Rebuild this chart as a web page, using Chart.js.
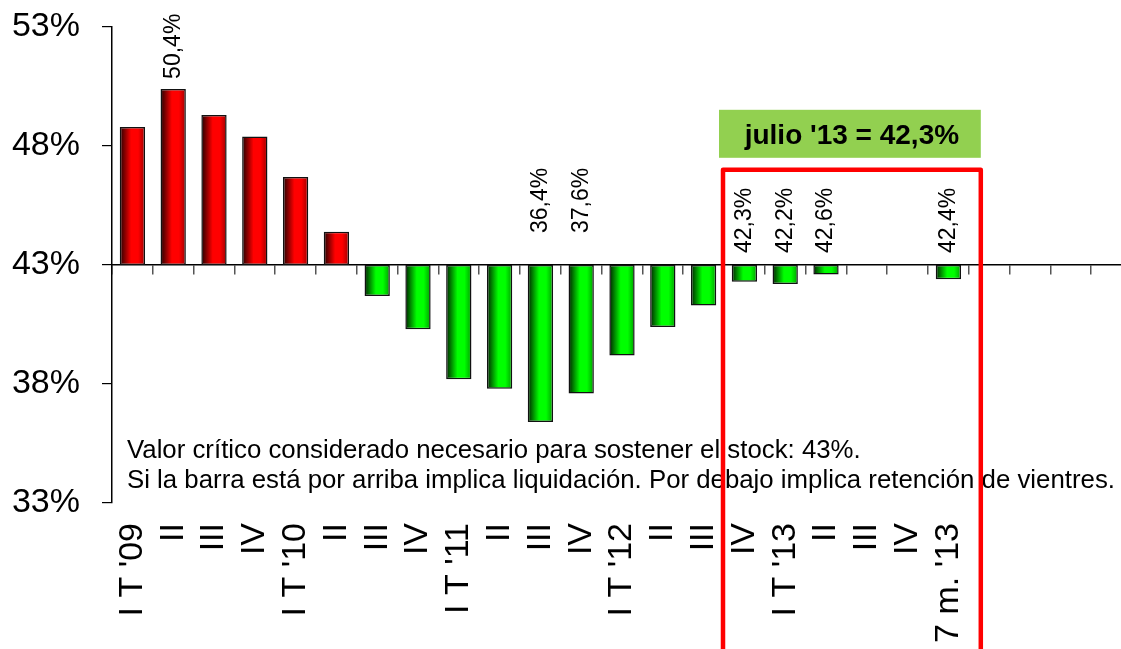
<!DOCTYPE html>
<html lang="es">
<head>
<meta charset="UTF-8">
<title>Relación de faena de hembras</title>
<script src="https://cdn.jsdelivr.net/npm/chart.js"></script>
<style>
  html, body { margin: 0; padding: 0; background: #fff; overflow: hidden; }
  #wrap { width: 1132px; height: 649px; }
</style>
</head>
<body>
<div id="wrap"><canvas id="myChart"></canvas></div>
<script>
// trimestres (las ultimas 4 categorias quedan vacias)
const labels = ["I T '09", "II", "III", "IV", "I T '10", "II", "III", "IV",
                "I T '11", "II", "III", "IV", "I T '12", "II", "III", "IV",
                "I T '13", "II", "III", "IV", "7 m. '13", "", "", "", ""];
const values = [48.8, 50.4, 49.3, 48.4, 46.7, 44.4, 41.7, 40.3,
                38.2, 37.8, 36.4, 37.6, 39.2, 40.4, 41.3, 42.3,
                42.2, 42.6, null, null, 42.4, null, null, null, null];
const labeledBars = [1, 10, 11, 15, 16, 17, 20];
const critico = 43;
const yTicks = [33, 38, 43, 48, 53];
const notaLineas = [
  "Valor crítico considerado necesario para sostener el stock: 43%.",
  "Si la barra está por arriba implica liquidación. Por debajo implica retención de vientres."
];
const recuadroTexto = "julio '13 = 42,3%";
const highlightFrom = 15, highlightTo = 20;

const FONT = "'Liberation Sans', Arial, sans-serif";

function barGradient(ctx) {
  const chart = ctx.chart;
  const v = values[ctx.dataIndex];
  const plano = v != null && v < critico ? '#00ff00' : '#ff0000';
  const xs = chart.scales.x;
  if (!chart.chartArea || !xs || v == null) return plano;
  const cx = xs.getPixelForValue(ctx.dataIndex);
  if (!isFinite(cx)) return plano;
  const w = 26;
  const g = chart.ctx.createLinearGradient(cx - w / 2, 0, cx + w / 2, 0);
  if (v >= critico) {
    g.addColorStop(0, '#1a0000');
    g.addColorStop(0.45, '#ff0000');
    g.addColorStop(0.72, '#ff0000');
    g.addColorStop(1, '#9a0000');
  } else {
    g.addColorStop(0, '#001a00');
    g.addColorStop(0.45, '#00ff00');
    g.addColorStop(0.72, '#00ff00');
    g.addColorStop(1, '#009a00');
  }
  return g;
}

const etiquetas = {
  id: 'etiquetas',
  afterDatasetsDraw(chart) {
    const ctx = chart.ctx;
    const meta = chart.getDatasetMeta(0);
    const yBase = chart.scales.y.getPixelForValue(critico);
    ctx.save();
    ctx.fillStyle = '#000';
    ctx.font = '23px ' + FONT;
    ctx.textAlign = 'left';
    ctx.textBaseline = 'middle';
    labeledBars.forEach(i => {
      const el = meta.data[i];
      const v = values[i];
      let yb;
      if (v >= critico) yb = Math.min(el.y, el.base) - 10;
      else yb = yBase - (v < 40 ? 32 : 12);
      ctx.save();
      ctx.translate(el.x, yb);
      ctx.rotate(-Math.PI / 2);
      ctx.fillText(v.toFixed(1).replace('.', ',') + '%', 0, 0);
      ctx.restore();
    });
    ctx.restore();
  },
  afterDraw(chart) {
    const ctx = chart.ctx;
    const xs = chart.scales.x, ys = chart.scales.y;
    const catW = (xs.right - xs.left) / labels.length;

    // nota
    ctx.save();
    ctx.fillStyle = '#000';
    ctx.font = '25.8px ' + FONT;
    ctx.textAlign = 'left';
    ctx.textBaseline = 'alphabetic';
    ctx.fillText(notaLineas[0], xs.left + 15, ys.getPixelForValue(34.9));
    ctx.fillText(notaLineas[1], xs.left + 15, ys.getPixelForValue(33.65));

    // recuadro rojo
    const left = xs.left + highlightFrom * catW - 1;
    const right = xs.left + (highlightTo + 1) * catW + 12;
    const top = ys.getPixelForValue(47);
    const bottom = chart.height + 20;

    // rotulo verde
    ctx.fillStyle = '#92D050';
    ctx.fillRect(left - 4, top - 60, right - left + 4, 48);
    ctx.fillStyle = '#000';
    ctx.font = 'bold 28px ' + FONT;
    ctx.textAlign = 'center';
    ctx.fillText(recuadroTexto, (left + right) / 2, top - 26);

    ctx.strokeStyle = '#ff0000';
    ctx.lineWidth = 4.5;
    ctx.lineJoin = 'round';
    ctx.beginPath();
    ctx.moveTo(left, bottom);
    ctx.lineTo(left, top);
    ctx.lineTo(right, top);
    ctx.lineTo(right, bottom);
    ctx.stroke();
    ctx.restore();
  }
};

new Chart(document.getElementById('myChart'), {
  type: 'bar',
  data: {
    labels: labels,
    datasets: [{
      data: values.map(v => v == null ? null : [critico, v]),
      backgroundColor: barGradient,
      borderColor: '#111',
      borderWidth: 1.5,
      borderSkipped: false,
      barPercentage: 0.62,
      categoryPercentage: 1
    }]
  },
  options: {
    responsive: true,
    maintainAspectRatio: false,
    devicePixelRatio: 1,
    animation: false,
    layout: { padding: { top: 27, left: 0, right: 0, bottom: 0 } },
    plugins: {
      legend: { display: false },
      tooltip: { enabled: false }
    },
    scales: {
      x: {
        position: 'bottom',
        border: { display: false },
        grid: { display: false },
        ticks: {
          color: '#000',
          font: { family: FONT, size: 34 },
          minRotation: 90,
          maxRotation: 90,
          autoSkip: false,
          padding: 12
        },
        afterFit(scale) {
          scale.height = 146;
          scale.paddingLeft = 0;
          scale.paddingRight = 0;
        }
      },
      x2: {
        type: 'category',
        labels: labels,
        position: { y: critico },
        offset: true,
        border: { display: true, color: '#000', width: 1.5 },
        grid: {
          display: true,
          offset: true,
          drawOnChartArea: false,
          drawTicks: true,
          tickLength: 9,
          color: '#555',
          lineWidth: 1.5
        },
        ticks: { display: false },
        afterFit(scale) {
          scale.paddingLeft = 0;
          scale.paddingRight = 0;
        }
      },
      y: {
        min: 33,
        max: 53,
        afterBuildTicks(scale) { scale.ticks = yTicks.map(v => ({ value: v })); },
        border: { display: true, color: '#000', width: 1.5 },
        grid: {
          drawOnChartArea: false,
          drawTicks: true,
          tickLength: 10,
          color: '#000',
          lineWidth: 1.2
        },
        ticks: {
          color: '#000',
          font: { family: FONT, size: 34 },
          padding: 22,
          callback: v => v + '%'
        },
        afterFit(scale) {
          scale.width = 112;
          scale.paddingTop = 0;
          scale.paddingBottom = 0;
        }
      }
    }
  },
  plugins: [etiquetas]
});
</script>
</body>
</html>
